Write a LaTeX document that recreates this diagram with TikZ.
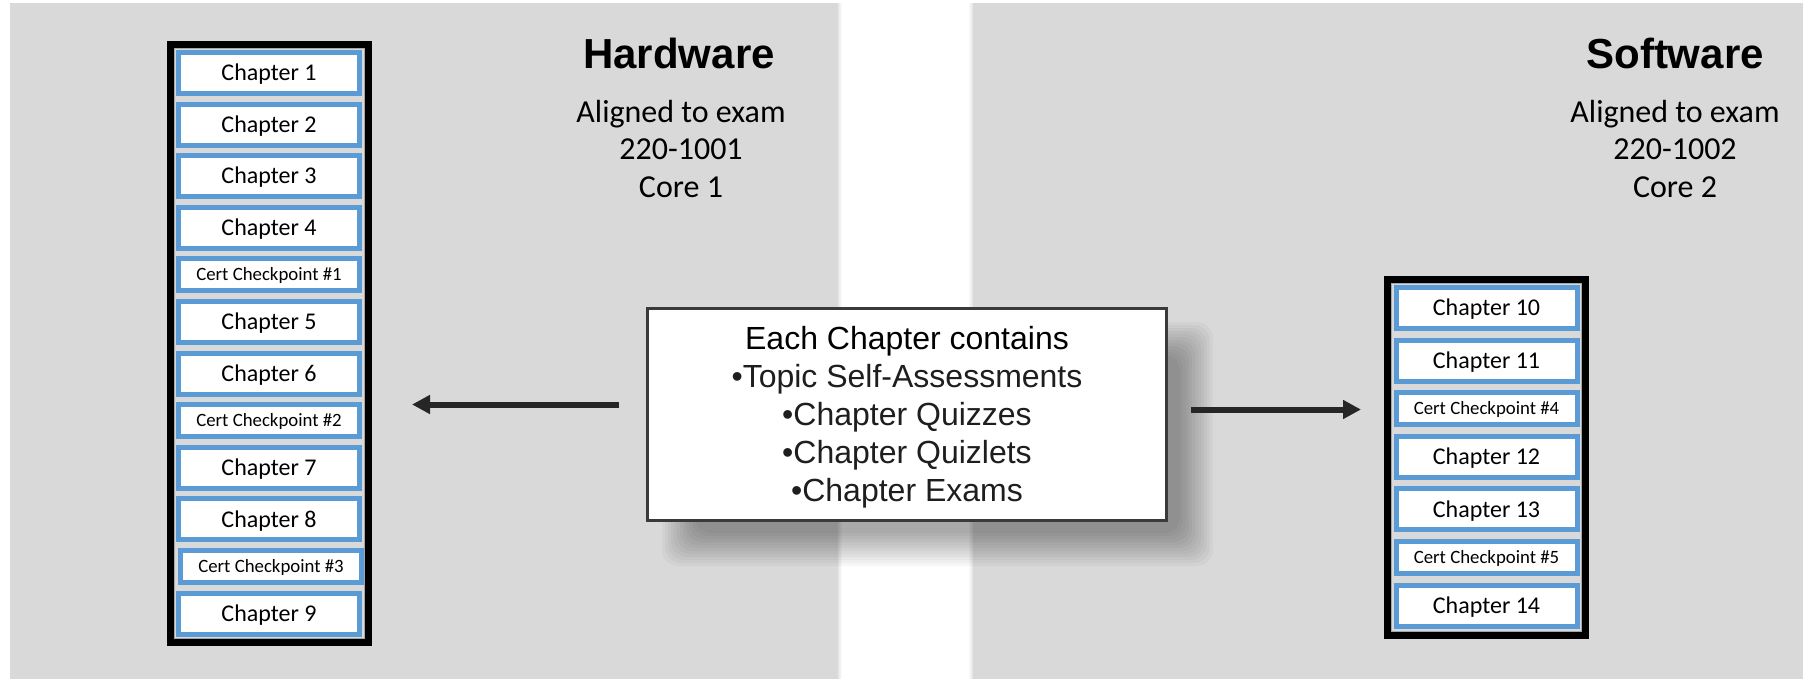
\documentclass[tikz,border=0pt]{standalone}
\usepackage{fontspec}
\setmainfont{Carlito}
\newfontfamily\headfont{Liberation Sans}
\usetikzlibrary{arrows.meta,positioning}
\definecolor{panelgray}{HTML}{D9D9D9}
\definecolor{chblue}{HTML}{5B9BD5}
\definecolor{arrowdark}{HTML}{262626}
\definecolor{boxedge}{HTML}{3A3A3A}
\definecolor{frameline}{HTML}{A6A6A6}
\definecolor{lighttext}{HTML}{1E1E1E}
\begin{document}
\begin{tikzpicture}[x=0.5pt,y=-0.5pt,
  panel/.style={fill=panelgray, draw=none},
  colframe/.style={draw=black, line width=3.5pt, fill=panelgray, inner sep=0pt, minimum width=99pt},
  chapbox/.style={draw=chblue, line width=2.5pt, fill=white, minimum width=90.5pt, minimum height=20.5pt, inner sep=0pt, text height=7.6pt, text depth=0pt, font=\fontsize{12}{14}\selectfont},
  certbox/.style={chapbox, minimum height=16pt, text height=5.95pt, font=\fontsize{9.4}{11}\selectfont},
  heading/.style={font=\headfont\bfseries\fontsize{21}{25}\selectfont},
  examtext/.style={align=center, font=\fontsize{16}{18.6}\selectfont},
  cbox/.style={draw=boxedge, line width=1.5pt, fill=white, minimum width=259.5pt, minimum height=106pt, align=center, inner sep=0pt, font=\headfont\fontsize{16}{19.1}\selectfont},
  bigarrow/.style={draw=arrowdark, line width=3pt, -{Triangle[length=9pt,width=9pt]}}
]
\useasboundingbox (0,0) rectangle (1808,679);
\fill[white] (0,0) rectangle (1808,679);
% panels
\fill[panel] (10,3) rectangle (838,679);
\fill[panel] (973,3) rectangle (1803,679);
\foreach \i in {1,...,4} {
  \fill[black, opacity=0.025] (838,3) rectangle (838+\i,679);
  \fill[black, opacity=0.025] (973-\i,3) rectangle (973,679);
}
% headings
\node[heading] (hwt) at (679,53) {Hardware};
\node[examtext] (hwa) at (681,149) {Aligned to exam\\220-1001\\Core 1};
\node[heading] (swt) at (1675,53) {Software};
\node[examtext] (swa) at (1675,149) {Aligned to exam\\220-1002\\Core 2};
% left column
\node[colframe, minimum height=299pt] (hwcol) at (269.5,343.5) {};
\draw[frameline, line width=0.6pt] ([xshift=3.9pt,yshift=-3.9pt]hwcol.north west) rectangle ([xshift=-3.9pt,yshift=3.9pt]hwcol.south east);
\node[chapbox] (c1) at (269,73) {Chapter 1};
\node[chapbox, below=2.8pt of c1] (c2) {Chapter 2};
\node[chapbox, below=2.8pt of c2] (c3) {Chapter 3};
\node[chapbox, below=2.8pt of c3] (c4) {Chapter 4};
\node[certbox, below=2.8pt of c4] (k1) {Cert Checkpoint \#1};
\node[chapbox, below=2.8pt of k1] (c5) {Chapter 5};
\node[chapbox, below=2.8pt of c5] (c6) {Chapter 6};
\node[certbox, below=2.8pt of c6] (k2) {Cert Checkpoint \#2};
\node[chapbox, below=2.8pt of k2] (c7) {Chapter 7};
\node[chapbox, below=2.8pt of c7] (c8) {Chapter 8};
\node[certbox, below=2.8pt of c8, xshift=1pt] (k3) {Cert Checkpoint \#3};
\node[chapbox, below=2.8pt of k3, xshift=-1pt] (c9) {Chapter 9};
% right column
\node[colframe, minimum height=178pt] (swcol) at (1486.5,457.5) {};
\draw[frameline, line width=0.6pt] ([xshift=3.9pt,yshift=-3.9pt]swcol.north west) rectangle ([xshift=-3.9pt,yshift=3.9pt]swcol.south east);
\node[chapbox] (c10) at (1486.5,308) {Chapter 10};
\node[chapbox, below=3.3pt of c10] (c11) {Chapter 11};
\node[certbox, below=3.3pt of c11] (k4) {Cert Checkpoint \#4};
\node[chapbox, below=3.3pt of k4] (c12) {Chapter 12};
\node[chapbox, below=3.3pt of c12] (c13) {Chapter 13};
\node[certbox, below=3.3pt of c13] (k5) {Cert Checkpoint \#5};
\node[chapbox, below=3.3pt of k5] (c14) {Chapter 14};
% shadow of central box
\foreach \i in {0,...,11} {
  \fill[black, opacity=0.033, rounded corners=8pt] (662+\i*3,322+\i*3) rectangle (1213-\i*3,566-\i*3);
}
% central box
\node[cbox] (cb) at (907,414.5) {\rule{0pt}{14.3pt}Each Chapter contains\\\color{lighttext}\textbullet Topic Self-Assessments\\\color{lighttext}\textbullet Chapter Quizzes\\\color{lighttext}\textbullet Chapter Quizlets\\\color{lighttext}\textbullet Chapter Exams};
% arrows
\draw[bigarrow, shorten <=13.5pt, shorten >=20pt] ([yshift=5pt]cb.west) -- ([yshift=5pt]cb.west -| hwcol.east);
\draw[bigarrow, shorten <=11.5pt, shorten >=11.5pt] ([yshift=2.5pt]cb.east) -- ([yshift=2.5pt]cb.east -| swcol.west);
\end{tikzpicture}
\end{document}
